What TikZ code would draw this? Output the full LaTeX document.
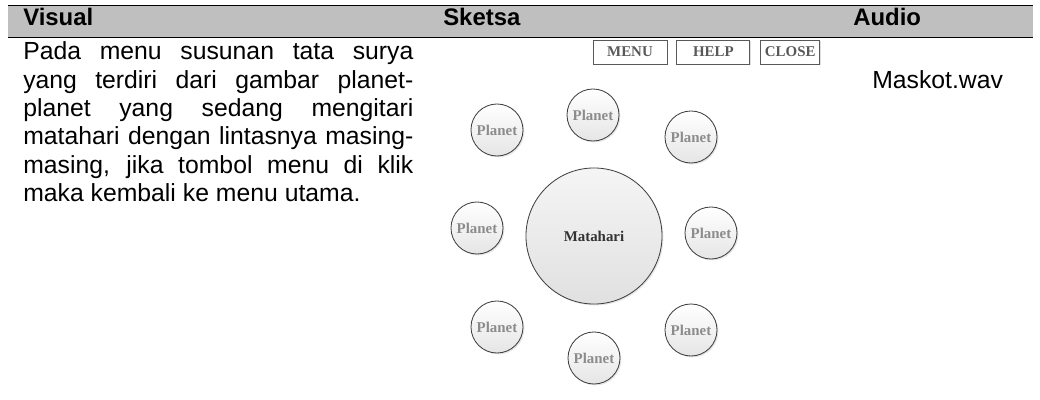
\documentclass[tikz,border=0pt]{standalone}
\usepackage{fontspec}
\setmainfont{Liberation Sans}
\newfontfamily\sketchfont{Liberation Serif}
\usetikzlibrary{positioning,shadows}

\begin{document}
\begin{tikzpicture}[x=0.025cm, y=-0.025cm,
  every node/.style={inner sep=0pt},
  hdr/.style={anchor=base west, font=\fontsize{17pt}{20pt}\selectfont\bfseries},
  body/.style={anchor=base west, font=\fontsize{17.6pt}{20.1pt}\selectfont},
  btn/.style={draw=black!65, fill=white, line width=0.6pt, minimum height=0.6cm,
    drop shadow={shadow xshift=0.8pt, shadow yshift=-0.8pt, opacity=0.25},
    font=\sketchfont\bfseries\fontsize{10.6pt}{11pt}\selectfont, text=black!65},
  planet/.style={circle, draw=black!75, line width=0.6pt, minimum size=1.3cm,
    top color=white, bottom color=black!10,
    drop shadow={shadow xshift=1pt, shadow yshift=-1pt, opacity=0.2},
    font=\sketchfont\bfseries\fontsize{10.6pt}{11pt}\selectfont, text=black!45},
  sun/.style={circle, draw=black!75, line width=0.6pt, minimum size=3.4cm,
    top color=black!4, bottom color=black!12,
    drop shadow={shadow xshift=1pt, shadow yshift=-1pt, opacity=0.2},
    font=\sketchfont\bfseries\fontsize{10.6pt}{12pt}\selectfont, text=black!80}]
\useasboundingbox (0,0) rectangle (1040,400);

% header row
\fill[black!25] (8,5) rectangle (1033,37);
\draw[line width=0.7pt] (8,5) -- (1033,5);
\draw[line width=0.7pt] (8,37) -- (1033,37);
\node[hdr] (hvisual) at (23,26) {Visual};
\node[hdr] (hsketsa) at (443,26) {Sketsa};
\node[hdr] (haudio) at (853,26) {Audio};

% visual column
\node[body, text width=9.75cm, align=left] (visual) at (23,60) {%
\spaceskip=.28em plus 3em minus .05em
\makebox[9.75cm][s]{Pada menu susunan tata surya}\\
\makebox[9.75cm][s]{yang terdiri dari gambar planet-}\\
\makebox[9.75cm][s]{planet yang sedang mengitari}\\
\makebox[9.75cm][s]{matahari dengan lintasnya masing-}\\
\makebox[9.75cm][s]{masing, jika tombol menu di klik}\\
maka kembali ke menu utama.};

% sketch column
\node[btn, minimum width=1.85cm] (menu) at (630,52) {MENU};
\node[btn, minimum width=1.825cm, right=0.225cm of menu] (help) {HELP};
\node[btn, minimum width=1.475cm, right=0.25cm of help] (close) {CLOSE};

\node[sun] (sun) at (594,236) {Matahari};
\node[planet] (p1) at (497,130) {Planet};
\node[planet] (p2) at (593,115) {Planet};
\node[planet] (p3) at (691,137) {Planet};
\node[planet] (p4) at (477,228) {Planet};
\node[planet] (p5) at (711,233) {Planet};
\node[planet] (p6) at (497,327) {Planet};
\node[planet] (p7) at (594,358) {Planet};
\node[planet] (p8) at (691,330) {Planet};

% audio column
\node[body] (audio) at (872,89) {Maskot.wav};
\end{tikzpicture}
\end{document}
